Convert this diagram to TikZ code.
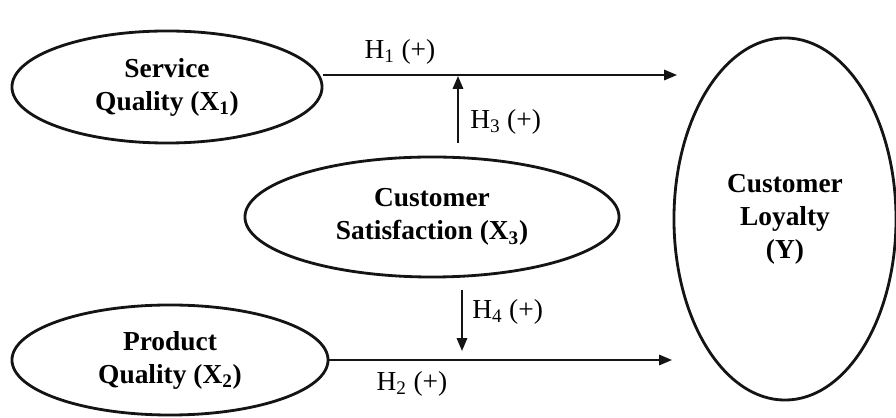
\documentclass[tikz,border=0pt]{standalone}
\usepackage{fontspec}
\setmainfont{Liberation Serif}
\usepackage{tikz}
\usetikzlibrary{arrows.meta,positioning,calc,shapes.geometric}
\definecolor{inkBlack}{RGB}{ 20, 20, 20}

\begin{document}
\begin{tikzpicture}[x=0.025cm,y=-0.025cm,
      construct/.style={ellipse,draw=inkBlack,line width=2pt,inner sep=0pt,
        align=center,font=\bfseries\fontsize{19.5}{23.5}\selectfont},
      hypo/.style={-{Triangle[length=3.2mm,width=2.6mm]},line width=1.2pt,draw=inkBlack},
      hlabel/.style={font=\fontsize{19.5}{22}\selectfont,inner sep=0pt}]
      \useasboundingbox (0,0) rectangle (896,418);
      \node[construct,minimum width=7.75cm,minimum height=2.8cm]  (service)  at (167,87)  {Service\\Quality (X\textsubscript{1})};
      \node[construct,minimum width=7.9cm,minimum height=2.75cm]  (product)  at (170,360) {Product\\Quality (X\textsubscript{2})};
      \node[construct,minimum width=9.35cm,minimum height=3.0cm]  (satisfy)  at (432,217) {Customer\\Satisfaction (X\textsubscript{3})};
      \node[construct,minimum width=5.55cm,minimum height=9.05cm] (loyalty)  at (785,219) {Customer\\Loyalty\\(Y)};
      \coordinate (h1end) at (677,75);
      \coordinate (h2end) at (672,360);
      \coordinate (h3from) at (458,143);
      \coordinate (h4from) at (462,290);
      \coordinate (h4end) at (462,351);
      \draw[hypo] (service.east |- h1end) -- (h1end);
      \draw[hypo] (product.east) -- (h2end);
      \draw[hypo] (h3from) -- (h3from |- 0,76);
      \draw[hypo] (h4from) -- (h4end);
      \node[hlabel] (h1lbl) at (400,52)  {H\textsubscript{1} (+)};
      \node[hlabel] (h2lbl) at (412,384) {H\textsubscript{2} (+)};
      \node[hlabel,anchor=west] (h3lbl) at (470,122) {H\textsubscript{3} (+)};
      \node[hlabel,anchor=west] (h4lbl) at (472,312) {H\textsubscript{4} (+)};
\end{tikzpicture}
\end{document}
